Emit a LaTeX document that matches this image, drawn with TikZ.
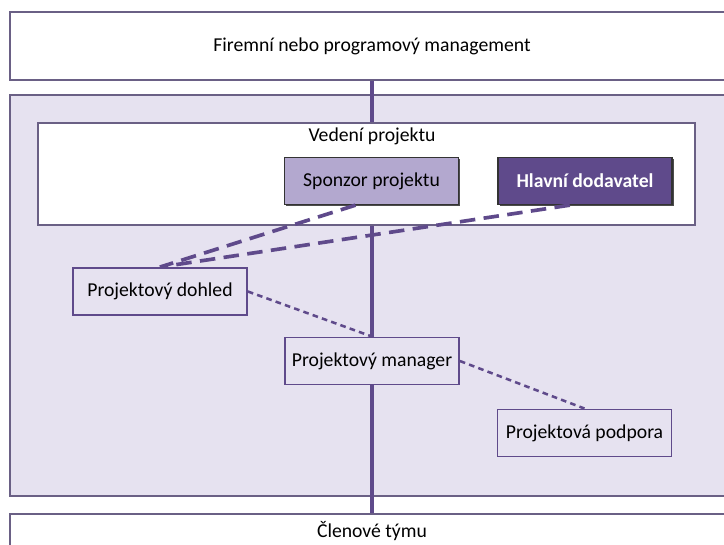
\documentclass[tikz,border=0pt]{standalone}
\usepackage{fontspec}
\setmainfont{Carlito}
\usetikzlibrary{shadows}

\definecolor{darkpurple}{HTML}{5F4A8B}
\definecolor{lilac}{HTML}{B3A8CF}
\definecolor{lavender}{HTML}{E6E2F0}
\definecolor{framecol}{HTML}{6A6085}

\tikzset{
    framebox/.style={draw=framecol, line width=1.2pt, fill=white, rectangle,
        minimum width=18.1cm, font=\fontsize{14}{16}\selectfont},
    rolebox/.style={draw=darkpurple, line width=1.2pt, fill=lavender, rectangle,
        minimum width=4.35cm, minimum height=1.18cm, font=\fontsize{14}{16}\selectfont},
    headbox/.style={rolebox, draw=black!80, line width=0.8pt,
        drop shadow={shadow xshift=1.2pt, shadow yshift=-1.2pt, fill=black!70, opacity=1}},
    mainline/.style={draw=darkpurple, line width=3.2pt},
    longdash/.style={draw=darkpurple, line width=2.6pt, dash pattern=on 11pt off 6pt},
    shortdash/.style={draw=darkpurple, line width=1.8pt, dash pattern=on 4pt off 3pt}
}

\begin{document}
\begin{tikzpicture}[x=0.025cm,y=-0.025cm]
        \useasboundingbox (0,0) rectangle (724,545);

        % Outer frames
        \node[framebox, minimum height=1.7cm] (firma) at (372,46) {Firemní nebo programový management};
        \node[framebox, minimum height=0.85cm] (clenove) at (372,531) {Členové týmu};
        \node[framebox, fill=lavender, minimum height=10.03cm] (projekt) at (372,295.5) {};

        % Project board
        \node[framebox, minimum width=16.43cm, minimum height=2.55cm] (vedeni) at (366.5,174) {};
        \node[font=\fontsize{14}{16}\selectfont] (vedenilabel) at (372,136) {Vedení projektu};

        % Roles
        \node[headbox, fill=lilac] (sponzor) at (371.5,181) {Sponzor projektu};
        \node[headbox, fill=darkpurple, text=white, font=\fontsize{14}{16}\selectfont\bfseries] (dodavatel) at (585,181) {Hlavní dodavatel};
        \node[rolebox] (dohled) at (160,291.5) {Projektový dohled};
        \node[rolebox] (manager) at (372,361) {Projektový manager};
        \node[rolebox] (podpora) at (584.5,433) {Projektová podpora};

        % Line of authority
        \draw[mainline] (firma.south) -- (firma.south |- vedeni.north);
        \draw[mainline] (firma.south |- vedeni.south) -- (manager.north);
        \draw[mainline] (manager.south) -- (clenove.north);

        % Links
        \draw[longdash] ([xshift=-0.4cm]sponzor.south) -- (dohled.north);
        \draw[longdash] ([xshift=-0.38cm]dodavatel.south) -- (dohled.north);
        \draw[shortdash] (dohled.east) -- (manager.north);
        \draw[shortdash] (manager.east) -- (podpora.north);

    \end{tikzpicture}
\end{document}
